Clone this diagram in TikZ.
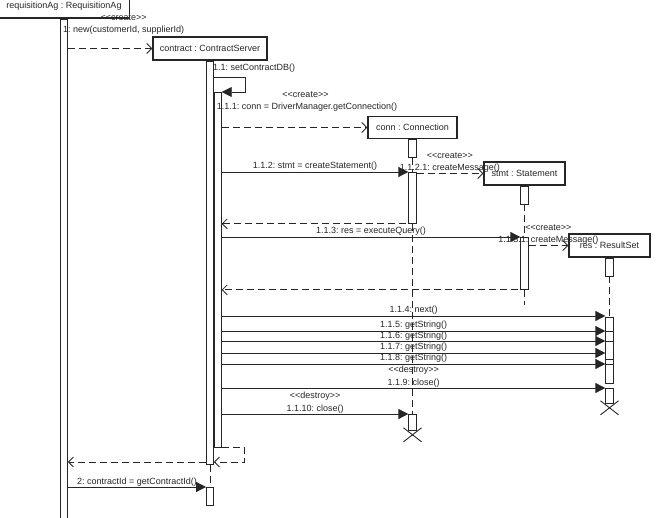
\documentclass[tikz,border=0pt]{standalone}
\usepackage{fontspec}
\setmainfont{Liberation Sans}
\usetikzlibrary{positioning, arrows.meta, calc}
\frenchspacing

\begin{document}
\begin{tikzpicture}[
  x=1pt, y=-1pt, color=black!85,
  font=\fontsize{9}{12.5}\selectfont,
  obj/.style={draw, line width=1.4pt, minimum height=22pt, inner sep=0pt},
  bar/.style={draw, line width=0.8pt, fill=white, minimum width=7.5pt, inner sep=0pt, anchor=north},
  life/.style={line width=0.8pt, dash pattern=on 7pt off 4pt},
  call/.style={-{Triangle[length=10pt,width=10pt]}, line width=0.8pt},
  reply/.style={-{Straight Barb[length=5pt,width=10pt]}, line width=0.8pt, dash pattern=on 7pt off 4pt},
  tag/.style={anchor=base, inner sep=0pt},
  lbl/.style={tag, yshift=3pt},
  stereo/.style={tag, yshift=15pt},
  kill/.style={line width=0.9pt}
]
  \useasboundingbox (0,0) rectangle (661,518);
  \clip (0,0) rectangle (661,518);

  % objects
  \node[obj, minimum width=131pt, minimum height=24pt] (req) at (64,6) {requisitionAg : RequisitionAg};
  \node[obj, minimum width=114pt, minimum height=23pt] (ctr) at (210,48.5) {contract : ContractServer};
  \node[obj, minimum width=89pt] (conn) at (412.5,127.5) {conn : Connection};
  \node[obj, minimum width=81pt, minimum height=23pt] (stmt) at (524.5,173.5) {stmt : Statement};
  \node[obj, minimum width=81pt, minimum height=23pt] (res) at (609.5,245.5) {res : ResultSet};

  % activations
  \node[bar, minimum width=7pt, minimum height=520pt] (reqB) at (req.south) {};
  \node[bar, minimum width=7pt, minimum height=403pt] (ctrB) at (ctr.south) {};
  \node[bar, minimum width=7pt, minimum height=355pt, anchor=north west] (ctrIn) at (ctrB.east |- 0,92) {};
  \node[bar, minimum width=7pt, minimum height=18pt] (ctrC) at (ctr.south |- 0,487) {};
  \node[bar, minimum height=18pt] (connS) at (conn.south) {};
  \node[bar, minimum height=51pt] (connA) at (conn.south |- 0,172) {};
  \node[bar, minimum height=16pt] (connD) at (conn.south |- 0,414) {};
  \node[bar, minimum height=18pt] (stmtS) at (stmt.south) {};
  \node[bar, minimum height=52pt] (stmtA) at (stmt.south |- 0,237) {};
  \node[bar, minimum height=18pt] (resS) at (res.south) {};
  \node[bar, minimum height=66pt] (resA) at (res.south |- 0,317) {};
  \node[bar, minimum height=15pt] (resD) at (res.south |- 0,388) {};
  \coordinate (stmtEnd) at (stmt.south |- 0,305);

  % lifelines
  \draw[life] (ctrB.south) -- (ctrC.north);
  \draw[life] (connS.south) -- (connA.north);
  \draw[life] (connA.south) -- (connD.north);
  \draw[life] (stmtS.south) -- (stmtA.north);
  \draw[life] (stmtA.south) -- (stmtEnd);
  \draw[life] (resS.south) -- (resA.north);

  % messages
  \draw[reply] (reqB.east |- ctr.west) -- (ctr.west)
    node[tag, midway, xshift=13.5pt, yshift=27.5pt] {<{}<create>{}>}
    node[tag, midway, xshift=13.5pt, yshift=15.5pt] {1: new(customerId, supplierId)};
  \node[tag, anchor=base west] (setLbl) at (213,71) {1.1: setContractDB()};
  \draw[call] (ctrB.east |- 0,77) -- ++(31,0) |- (ctrIn.east |- 0,92);
  \draw[reply] (ctrIn.east |- conn.west) -- (conn.west)
    node[tag, midway, xshift=11pt, yshift=30pt] {<{}<create>{}>}
    node[tag, midway, xshift=12.5pt, yshift=17.5pt] {1.1.1: conn = DriverManager.getConnection()};
  \draw[call] (ctrIn.east |- connA.north) -- (connA.north west)
    node[lbl, midway] {1.1.2: stmt = createStatement()};
  \draw[reply] (connA.east |- stmt.west) -- (stmt.west)
    node[stereo, midway] {<{}<create>{}>}
    node[lbl, midway] {1.1.2.1: createMessage()};
  \draw[reply] (connA.south east) -- (ctrIn.east |- connA.south);
  \draw[call] (ctrIn.east |- stmtA.north) -- (stmtA.north west)
    node[lbl, midway] {1.1.3: res = executeQuery()};
  \draw[reply] (stmtA.east |- res.west) -- (res.west)
    node[stereo, midway] {<{}<create>{}>}
    node[lbl, midway] {1.1.3.1: createMessage()};
  \draw[reply] (stmtA.south east) -- (ctrIn.east |- stmtA.south);

  \foreach \y/\txt in {316/1.1.4: next(), 331/1.1.5: getString(), 341/1.1.6: getString(),
                       353/1.1.7: getString(), 364/1.1.8: getString()}
    \draw[call] (ctrIn.east |- 0,\y) -- (resA.west |- 0,\y) node[lbl, midway] {\txt};
  \foreach \y in {331,341,359,364}
    \draw[line width=0.6pt] (resA.west |- 0,\y) -- (resA.east |- 0,\y);
  \draw[call] (ctrIn.east |- resD.north) -- (resD.north west)
    node[stereo, midway] {<{}<destroy>{}>}
    node[lbl, midway] {1.1.9: close()};
  \draw[call] (ctrIn.east |- connD.north) -- (connD.north west)
    node[stereo, midway] {<{}<destroy>{}>}
    node[lbl, midway] {1.1.10: close()};

  \foreach \b in {connD, resD}
    \draw[kill] (\b.south) ++(-9,-3) -- ++(18,14) ++(0,-14) -- ++(-18,14);

  % returns
  \draw[reply] (ctrIn.south east) -- ++(23,0) |- (ctrB.east |- 0,462);
  \draw[reply] (ctrB.west |- 0,462) -- (reqB.east |- 0,462);
  \draw[call] (reqB.east |- ctrC.north) -- (ctrC.north west)
    node[lbl, midway] {2: contractId = getContractId()};
\end{tikzpicture}
\end{document}
